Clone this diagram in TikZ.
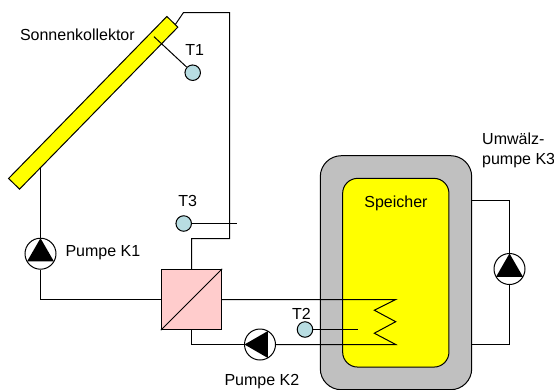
\documentclass[tikz,border=0pt]{standalone}
\usepackage{fontspec}
\setmainfont{Liberation Sans}
\usetikzlibrary{shapes.geometric}
\usetikzlibrary{positioning}
\definecolor{sensorblue}{RGB}{184,221,226}
\definecolor{hxpink}{RGB}{255,204,204}
\definecolor{tankgray}{RGB}{192,192,192}
\definecolor{puregold}{RGB}{255,255,0}

\begin{document}
\begin{tikzpicture}[x=1pt,y=-1pt,line width=1pt,
    pipe/.style={-,line width=1pt},
    sensor node/.style={circle,draw,fill=sensorblue,inner sep=0pt,minimum size=15.5pt},
    pump node/.style={circle,draw,fill=white,inner sep=0pt,minimum size=31pt},
    pump tip/.style={regular polygon,regular polygon sides=3,fill=black,inner sep=0pt,minimum size=31pt},
    tank node/.style={rectangle,draw,inner sep=0pt},
    label node/.style={font=\fontsize{16}{19.3}\selectfont,inner sep=0pt,align=left}]
  \useasboundingbox (0,0) rectangle (554,389);
  \begin{scope}
    % storage tank
    \node[tank node,fill=tankgray,rounded corners=21pt,minimum width=151.4pt,minimum height=234pt] (mantle) at (396,272.7) {};
    \node[tank node,fill=puregold,rounded corners=15pt,minimum width=106.3pt,minimum height=188.7pt] (tank) at (395.8,272.7) {};
    \node[label node] (speicher) at (396,203.7) {Speicher};

    \coordinate (a) at (175,25);
    \coordinate (b) at (183.5,12.5);
    \coordinate (c) at (229.5,12.5);
    \coordinate (d) at (229.5,238.5);
    \coordinate (e) at (191.5,238.5);
    \coordinate (f) at (40.5,168);
    \coordinate (g) at (40.5,299.5);
    \coordinate (h) at (191.5,344.5);
    \coordinate (i) at (395.7,299.5);
    \coordinate (j) at (374.3,310.2);
    \coordinate (k) at (395.7,321.7);
    \coordinate (l) at (374.3,333.2);
    \coordinate (m) at (395.7,344.5);
    \coordinate (n) at (471.7,200.5);
    \coordinate (o) at (509.5,200.5);
    \coordinate (p) at (509.5,344.5);
    \coordinate (q) at (471.7,344.5);

    \node[rectangle,draw,fill=hxpink,inner sep=0pt,minimum size=60.4pt] (hx) at (191.5,299.5) {};
    \node[pump node] (k1) at (40.5,253.7) {};
    \node[pump tip] at (40.5,253.7) {};
    \node[pump node] (k2) at (260,344.5) {};
    \node[pump tip,rotate=90] at (260,344.5) {};
    \node[pump node] (k3) at (509.5,269) {};
    \node[pump tip] at (509.5,269) {};

    % collector circuit
    \draw[pipe] (a) -- (b) -- (c) -- (d) -- (e) -- (hx.north);
    \draw[pipe] (f) -- (k1);
    \draw[pipe] (k1) -- (g) -- (hx.west);
    \draw[pipe] (hx.south west) -- (hx.north east);
    % tank circuit
    \draw[pipe] (hx.east) -- (i) -- (j) -- (k) -- (l) -- (m) -- (k2);
    \draw[pipe] (k2) -- (h) -- (hx.south);
    \draw[pipe] (n) -- (o) -- (k3);
    \draw[pipe] (k3) -- (p) -- (q);

    \node[rectangle,draw,fill=puregold,inner sep=0pt,minimum width=226.5pt,minimum height=15.3pt,rotate=45.66] (coll) at (93.2,102.8) {};

    \coordinate (s1) at (154,36.7);
    \coordinate (s2) at (358.3,329.5);
    \coordinate (s3) at (237,223.5);
    \node[sensor node] (t1) at (192.7,72.7) {};
    \node[sensor node] (t2) at (305,329.5) {};
    \node[sensor node] (t3) at (183.7,223.5) {};
    \path[pipe] (t1) edge (s1);
    \path[pipe] (t2) edge (s2);
    \path[pipe] (t3) edge (s3);

    \node[label node] (t1 text) at (194.7,50) {T1};
    \node[label node] (t2 text) at (301.5,314) {T2};
    \node[label node] (t3 text) at (187.7,201) {T3};
    \node[label node,anchor=west] (coll text) at (19.5,35) {Sonnenkollektor};
    \node[label node,anchor=west] (k1 text) at (65,253) {Pumpe K1};
    \node[label node,anchor=west] (k2 text) at (224,382) {Pumpe K2};
    \node[label node,anchor=west] (k3 text) at (481.7,150.5) {Umwälz-\\pumpe K3};
  \end{scope}
\end{tikzpicture}
\end{document}
